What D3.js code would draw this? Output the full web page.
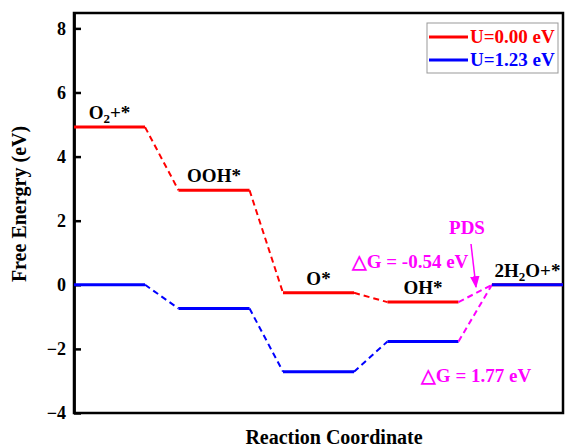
<!DOCTYPE html>
<html>
<head>
<meta charset="utf-8">
<script src="https://cdn.jsdelivr.net/npm/d3@7"></script>
<style>
  body { margin: 0; background: #fff; }
  text { font-family: "Liberation Serif", "Times New Roman", serif; font-weight: bold; }
</style>
</head>
<body>
<svg id="chart" width="567" height="447"></svg>
<script>
// data
const steps = ['O2+*', 'OOH*', 'O*', 'OH*', '2H2O+*']
const energyU0 = [4.92, 2.95, -0.25, -0.54, 0]      // U=0.00 eV
const energyU123 = [0, -0.74, -2.71, -1.77, 0]      // U=1.23 eV
const yTicks = [-4, -2, 0, 2, 4, 6, 8]
const seriesNames = ['U=0.00 eV', 'U=1.23 eV']
const seriesColors = ['#ff0000', '#0000ff']
const pdsColor = '#ff00ff'

const svg = d3.select('#chart')

const plotLeft = 74, plotRight = 563, plotTop = 13, plotBottom = 413
const levelWidth = 0.68

const xScale = d3.scaleLinear().domain([0, steps.length - 1 + levelWidth]).range([plotLeft, plotRight])
const yScale = d3.scaleLinear().domain([-4, 8.48]).range([plotBottom, plotTop])

// frame
svg.append('rect')
  .attr('x', plotLeft).attr('y', plotTop)
  .attr('width', plotRight - plotLeft).attr('height', plotBottom - plotTop)
  .attr('fill', 'none').attr('stroke', 'black').attr('stroke-width', 2.5)

// y axis, ticks pointing inward
const yAxis = d3.axisLeft(yScale).tickValues(yTicks).tickSizeInner(-7).tickSizeOuter(0).tickPadding(8)
const gy = svg.append('g').attr('transform', 'translate(' + plotLeft + ',0)').call(yAxis)
gy.select('.domain').attr('stroke-width', 2.8)
gy.selectAll('.tick line').attr('stroke-width', 2.5)
gy.selectAll('.tick text').style('font-size', '18px').attr('fill', 'black')

// axis titles
svg.append('text')
  .attr('transform', 'translate(26,204) rotate(-90)')
  .attr('text-anchor', 'middle')
  .style('font-size', '20px')
  .text('Free Energry (eV)')

svg.append('text')
  .attr('x', 334).attr('y', 444)
  .attr('text-anchor', 'middle')
  .style('font-size', '20px')
  .text('Reaction Coordinate')

// energy levels and dashed connectors
function drawSeries(values, color) {
  const g = svg.append('g')
  values.forEach((v, i) => {
    g.append('line')
      .attr('x1', xScale(i)).attr('x2', xScale(i + levelWidth))
      .attr('y1', yScale(v)).attr('y2', yScale(v))
      .attr('stroke', color).attr('stroke-width', 3)
    if (i < values.length - 1) {
      const last = i === values.length - 2
      g.append('line')
        .attr('x1', xScale(i + levelWidth)).attr('y1', yScale(v))
        .attr('x2', xScale(i + 1)).attr('y2', yScale(values[i + 1]))
        .attr('stroke', last ? pdsColor : color)
        .attr('stroke-width', 2)
        .attr('stroke-dasharray', '6,4')
    }
  })
}
drawSeries(energyU0, seriesColors[0])
drawSeries(energyU123, seriesColors[1])

// step labels, a "2" after H or O is a subscript
function stepLabel(txt, x, y) {
  const t = svg.append('text')
    .attr('x', x).attr('y', y)
    .attr('text-anchor', 'middle')
    .style('font-size', '19px')
  txt.split('').forEach((ch, k) => {
    const sub = ch === '2' && k > 0 && /[HO]/.test(txt[k - 1])
    t.append('tspan')
      .attr('baseline-shift', sub ? '-30%' : null)
      .style('font-size', sub ? '13px' : null)
      .text(ch)
  })
}
steps.forEach((s, i) => {
  stepLabel(s, xScale(i + levelWidth / 2), yScale(energyU0[i]) - 8)
})

// PDS annotation
svg.append('defs').append('marker')
  .attr('id', 'arrow')
  .attr('viewBox', '0 0 10 10')
  .attr('refX', 9).attr('refY', 5)
  .attr('markerWidth', 8).attr('markerHeight', 8)
  .attr('orient', 'auto-start-reverse')
  .append('path').attr('d', 'M0,1 L10,5 L0,9 Z').attr('fill', pdsColor)

svg.append('line')
  .attr('x1', 471).attr('y1', 244)
  .attr('x2', 476).attr('y2', 287)
  .attr('stroke', pdsColor).attr('stroke-width', 1.5)
  .attr('marker-end', 'url(#arrow)')

svg.append('text').attr('x', 467).attr('y', 234).attr('text-anchor', 'middle')
  .style('font-size', '19px').attr('fill', pdsColor).text('PDS')
svg.append('text').attr('x', 410).attr('y', 268).attr('text-anchor', 'middle')
  .style('font-size', '19px').attr('fill', pdsColor)
  .text('\u25B3G = -' + (0 - energyU0[3]).toFixed(2) + ' eV')
svg.append('text').attr('x', 476).attr('y', 382).attr('text-anchor', 'middle')
  .style('font-size', '19px').attr('fill', pdsColor)
  .text('\u25B3G = ' + (energyU123[4] - energyU123[3]).toFixed(2) + ' eV')

// legend
const legend = svg.append('g').attr('transform', 'translate(427,23)')
legend.append('rect')
  .attr('width', 131).attr('height', 50)
  .attr('fill', 'white').attr('stroke', '#999').attr('stroke-width', 1)
seriesNames.forEach((name, i) => {
  legend.append('line')
    .attr('x1', 2).attr('x2', 41)
    .attr('y1', 14 + i * 23).attr('y2', 14 + i * 23)
    .attr('stroke', seriesColors[i]).attr('stroke-width', 3)
  legend.append('text')
    .attr('x', 43).attr('y', 20 + i * 23)
    .style('font-size', '19px').attr('fill', seriesColors[i])
    .text(name)
})
</script>
</body>
</html>
